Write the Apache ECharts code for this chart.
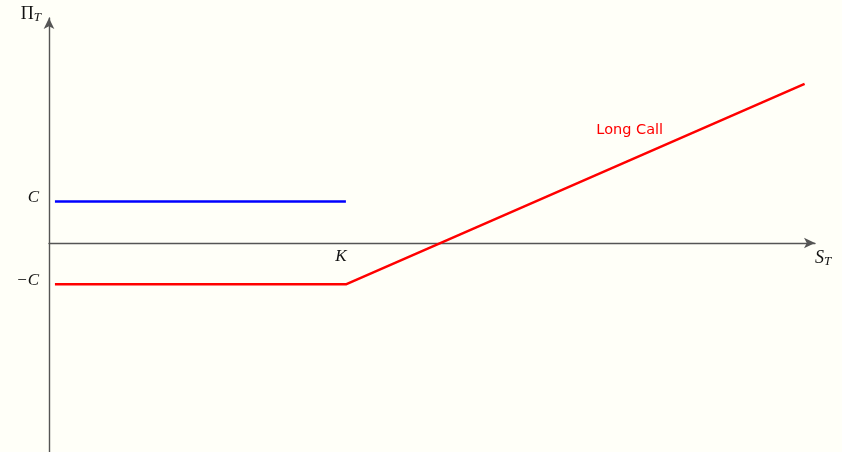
<!DOCTYPE html>
<html>
<head>
<meta charset="utf-8">
<script src="https://cdn.jsdelivr.net/npm/echarts@6/dist/echarts.min.js"></script>
<style>
  html, body { margin: 0; padding: 0; background: #fffff8; }
</style>
</head>
<body>
<div id="payoffChart" style="width:842px;height:452px;"></div>
<script>
// strike and premium, in chart units
const strikeK = 10
const premiumC = 1

// line points [S_T, payoff]
const shortPutLine = [[0.2, 1], [10, 1]]
const longCallLine = [[0.2, -1], [10, -1], [25.45, 3.83]]

// tick labels
const xTickValues = [strikeK]
const xTickLabels = ['K']
const yTickValues = [premiumC, -premiumC]
const yTickLabels = ['C', '\u2212C']

const callLabel = 'Long Call'
const callLabelAt = [19.56, 2.72]

let chart = echarts.init(document.getElementById('payoffChart'))

const mathFont = 'Liberation Serif'

let option = {
  backgroundColor: '#fffff8',
  animation: false,
  grid: { left: 49, right: 27, top: 18, bottom: 0, outerBoundsMode: 'none' },
  xAxis: {
    type: 'value',
    min: 0,
    max: 25.8,
    position: 'bottom',
    // move the axis up to y = 0
    offset: -209,
    splitLine: { show: false },
    axisTick: { show: false },
    axisLine: {
      onZero: false,
      symbol: ['none', 'arrow'],
      symbolSize: [8, 11],
      lineStyle: { color: '#555', width: 1.4 }
    },
    axisLabel: {
      customValues: xTickValues,
      formatter: v => xTickLabels[xTickValues.indexOf(v)] || '',
      margin: 5,
      color: '#111',
      fontFamily: mathFont,
      fontStyle: 'italic',
      fontSize: 17,
      padding: [0, 10, 0, 0]
    },
    name: '{s|S}{t|T}',
    nameLocation: 'end',
    nameGap: 0,
    nameTextStyle: {
      padding: [30, 0, 0, 0],
      rich: {
        s: { fontFamily: mathFont, fontStyle: 'italic', fontSize: 18, color: '#111' },
        t: { fontFamily: mathFont, fontStyle: 'italic', fontSize: 13, color: '#111', padding: [8, 0, 0, 0] }
      }
    }
  },
  yAxis: {
    type: 'value',
    min: -5.04,
    max: 5.42,
    splitLine: { show: false },
    axisTick: { show: false },
    axisLine: {
      onZero: false,
      symbol: ['none', 'arrow'],
      symbolSize: [8, 11],
      lineStyle: { color: '#555', width: 1.4 }
    },
    axisLabel: {
      customValues: yTickValues,
      formatter: v => yTickLabels[yTickValues.indexOf(v)] || '',
      margin: 10,
      color: '#111',
      fontFamily: mathFont,
      fontStyle: 'italic',
      fontSize: 17,
      verticalAlign: 'bottom',
      lineHeight: 8
    },
    name: '{p|\u03A0}{t|T}',
    nameLocation: 'end',
    nameGap: 0,
    nameTextStyle: {
      align: 'right',
      verticalAlign: 'middle',
      padding: [0, 8, 8, 0],
      rich: {
        p: { fontFamily: mathFont, fontSize: 18, color: '#111' },
        t: { fontFamily: mathFont, fontStyle: 'italic', fontSize: 13, color: '#111', padding: [8, 0, 0, 0] }
      }
    }
  },
  series: [
    {
      type: 'line',
      data: shortPutLine,
      symbol: 'none',
      lineStyle: { color: '#0000ff', width: 2.5 }
    },
    {
      type: 'line',
      data: longCallLine,
      symbol: 'none',
      lineStyle: { color: '#ff0000', width: 2.5 },
      markPoint: {
        symbol: 'circle',
        symbolSize: 0,
        data: [{ coord: callLabelAt }],
        label: {
          show: true,
          position: 'inside',
          formatter: callLabel,
          color: '#ff0000',
          fontFamily: 'DejaVu Sans',
          fontSize: 14.5
        }
      }
    }
  ]
}

chart.setOption(option)
</script>
</body>
</html>
